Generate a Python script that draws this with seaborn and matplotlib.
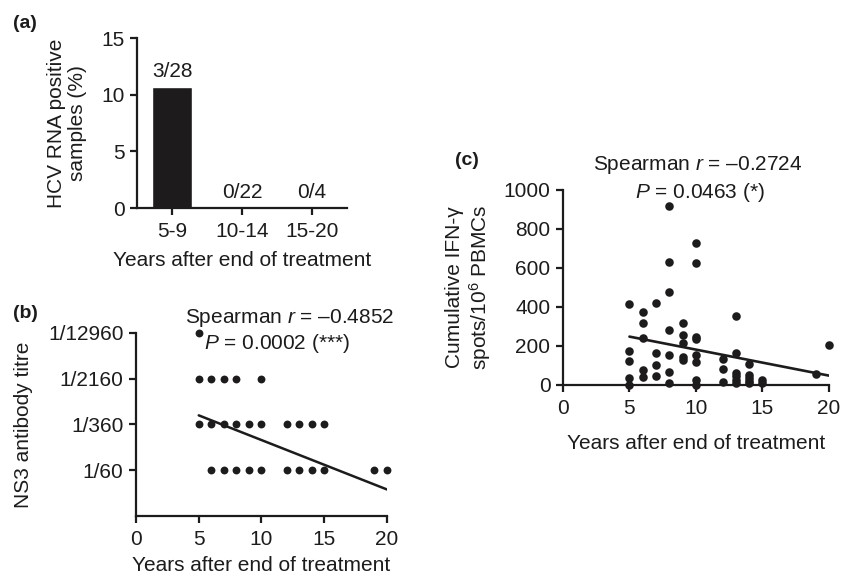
import numpy as np
import pandas as pd
import matplotlib
matplotlib.use("Agg")
import matplotlib.pyplot as plt
import seaborn as sns

# ---- data ----
# (a) HCV RNA positive samples by time since end of treatment
year_groups = ["5-9", "10-14", "15-20"]
positive = [3, 0, 0]
tested = [28, 22, 4]

# (b) NS3 antibody titre vs years
titre_labels = ["1/60", "1/360", "1/2160", "1/12960"]
b_years = [5,
           5, 6, 7, 8, 10,
           5, 6, 7, 8, 9, 10, 12, 13, 14, 15,
           6, 7, 8, 9, 10, 12, 13, 14, 15, 19, 20]
b_titre = ["1/12960",
           "1/2160", "1/2160", "1/2160", "1/2160", "1/2160",
           "1/360", "1/360", "1/360", "1/360", "1/360", "1/360", "1/360", "1/360", "1/360", "1/360",
           "1/60", "1/60", "1/60", "1/60", "1/60", "1/60", "1/60", "1/60", "1/60", "1/60", "1/60"]
b_fit_x = [5, 20]
b_fit_y = [2.2, 0.58]

# (c) cumulative IFN-gamma spots vs years
c_years = [5, 5, 5, 5, 5,
           6, 6, 6, 6, 6,
           7, 7, 7, 7,
           8, 8, 8, 8, 8, 8, 8,
           9, 9, 9, 9, 9,
           10, 10, 10, 10, 10, 10, 10, 10,
           12, 12, 12,
           13, 13, 13, 13, 13, 13,
           14, 14, 14, 14, 14,
           15, 15,
           19, 20]
c_spots = [415, 176, 125, 34, 0,
           376, 316, 239, 77, 43,
           422, 166, 100, 45,
           920, 632, 475, 280, 155, 68, 10,
           320, 256, 214, 145, 130,
           730, 627, 244, 234, 154, 120, 27, 0,
           133, 80, 14,
           356, 162, 62, 45, 28, 12,
           105, 52, 36, 20, 8,
           26, 12,
           55, 205]
c_fit_x = [5, 20]
c_fit_y = [248, 48]

ink = "#1e1b1c"
sns.set_style("ticks")
plt.rcParams["font.family"] = ["Liberation Sans", "DejaVu Sans"]
plt.rcParams.update({
    "mathtext.fontset": "custom",
    "mathtext.rm": "Liberation Sans",
    "mathtext.it": "Liberation Sans:italic",
    "font.size": 15,
    "text.color": ink,
    "axes.labelcolor": ink,
    "axes.edgecolor": ink,
    "xtick.color": ink,
    "ytick.color": ink,
    "axes.linewidth": 1.6,
    "xtick.major.width": 1.6,
    "ytick.major.width": 1.6,
    "xtick.major.size": 5,
    "ytick.major.size": 5,
    "xtick.major.pad": 5,
    "ytick.major.pad": 4,
    "xtick.labelsize": 15,
    "ytick.labelsize": 15,
})

fig = plt.figure(figsize=(8.42, 5.77), dpi=100)
ax_a = fig.add_axes([0.163, 0.6395, 0.249, 0.2946])
ax_b = fig.add_axes([0.1615, 0.1057, 0.2981, 0.3172])
ax_c = fig.add_axes([0.6686, 0.3328, 0.3159, 0.338])

# ---- (a) bar chart ----
df_a = pd.DataFrame({"group": year_groups,
                     "pct": [100 * p / t for p, t in zip(positive, tested)]})
sns.barplot(data=df_a, x="group", y="pct", color=ink, saturation=1,
            width=0.57, ax=ax_a)
for i, (p, t, v) in enumerate(zip(positive, tested, df_a["pct"])):
    ax_a.annotate(f"{p}/{t}", xy=(i, v), xytext=(0, 4), textcoords="offset points",
                  ha="center", va="bottom", fontsize=15)
ax_a.set_xlim(-0.5, 2.5)
ax_a.set_ylim(0, 15)
ax_a.set_yticks([0, 5, 10, 15])
ax_a.set_xlabel("Years after end of treatment")
ax_a.set_ylabel("HCV RNA positive\nsamples (%)", linespacing=1.15)
ax_a.xaxis.set_label_coords(0.5, -0.255)
ax_a.yaxis.set_label_coords(-0.24, 0.5)
sns.despine(ax=ax_a)

# ---- (b) titre scatter ----
df_b = pd.DataFrame({"years": b_years,
                     "level": [titre_labels.index(t) + 1 for t in b_titre]})
sns.scatterplot(data=df_b, x="years", y="level", color=ink, s=32,
                linewidth=0, clip_on=False, ax=ax_b)
ax_b.plot(b_fit_x, b_fit_y, color=ink, lw=1.8)
ax_b.set_xlim(0, 20)
ax_b.set_ylim(0, 4)
ax_b.set_xticks([0, 5, 10, 15, 20])
ax_b.set_yticks(range(1, len(titre_labels) + 1))
ax_b.set_yticklabels(titre_labels)
ax_b.set_xlabel("Years after end of treatment")
ax_b.set_ylabel("NS3 antibody titre")
ax_b.xaxis.set_label_coords(0.5, -0.22)
ax_b.yaxis.set_label_coords(-0.41, 0.5)
ax_b.text(3.9, 4.33, "Spearman $r$ = \u20130.4852", va="center", ha="left",
          fontsize=15, clip_on=False)
ax_b.text(5.4, 3.78, "$P$ = 0.0002 (***)", va="center", ha="left",
          fontsize=15, clip_on=False)
sns.despine(ax=ax_b)

# ---- (c) IFN-gamma scatter ----
df_c = pd.DataFrame({"years": c_years, "spots": c_spots})
sns.scatterplot(data=df_c, x="years", y="spots", color=ink, s=38,
                linewidth=0, clip_on=False, ax=ax_c)
ax_c.plot(c_fit_x, c_fit_y, color=ink, lw=1.9)
ax_c.set_xlim(0, 20)
ax_c.set_ylim(0, 1000)
ax_c.set_xticks([0, 5, 10, 15, 20])
ax_c.set_yticks([0, 200, 400, 600, 800, 1000])
ax_c.set_xlabel("Years after end of treatment")
ax_c.set_ylabel("Cumulative IFN-\u03b3\nspots/10$^{6}$ PBMCs", linespacing=1.15)
ax_c.xaxis.set_label_coords(0.5, -0.25)
ax_c.yaxis.set_label_coords(-0.262, 0.5)
ax_c.text(2.26, 1128, "Spearman $r$ = \u20130.2724", va="center", ha="left",
          fontsize=15, clip_on=False)
ax_c.text(5.41, 985, "$P$ = 0.0463 (*)", va="center", ha="left",
          fontsize=15, clip_on=False)
sns.despine(ax=ax_c)

# panel letters
fig.text(0.0154, 0.960, "(a)", fontsize=14, fontweight="bold", va="center")
fig.text(0.0154, 0.4575, "(b)", fontsize=14, fontweight="bold", va="center")
fig.text(0.540, 0.7227, "(c)", fontsize=14, fontweight="bold", va="center")

fig.savefig("out.png", dpi=100)
